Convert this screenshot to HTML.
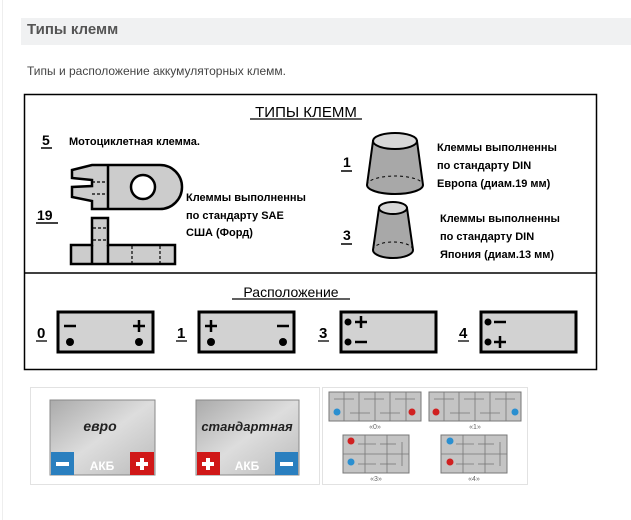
<!DOCTYPE html>
<html><head><meta charset="utf-8"><style>
body{margin:0;width:631px;height:520px;background:#fff;overflow:hidden;font-family:"Liberation Sans",sans-serif;position:relative}
</style></head><body>
<div style="position:absolute;left:2px;top:0;width:1px;height:520px;background:#eee"></div>
<div style="position:absolute;left:21px;top:18px;width:610px;height:27px;background:#f0f1f2"></div>
<div style="position:absolute;left:27px;top:21px;font-size:15px;font-weight:bold;color:#555">Типы клемм</div>
<div style="position:absolute;left:27px;top:64px;font-size:12px;color:#444">Типы и расположение аккумуляторных клемм.</div>
<svg width="631" height="520" style="position:absolute;left:0;top:0" font-family="Liberation Sans, sans-serif">
<rect x="24.5" y="94.5" width="572" height="275" fill="#fff" stroke="#000" stroke-width="1.5"/>
<line x1="24" y1="273" x2="597" y2="273" stroke="#000" stroke-width="1.5"/>
<text x="306" y="117" font-size="15" text-anchor="middle">ТИПЫ КЛЕММ</text>
<line x1="250" y1="119" x2="362" y2="119" stroke="#000" stroke-width="1.2"/>
<g font-weight="bold" font-size="11">
<text x="42" y="145" font-size="14">5</text><line x1="41" y1="148" x2="52" y2="148" stroke="#000" stroke-width="1.5"/>
<text x="69" y="145">Мотоциклетная клемма.</text>
<text x="37" y="220" font-size="14">19</text><line x1="36" y1="223" x2="58" y2="223" stroke="#000" stroke-width="1.5"/>
<text x="186" y="201">Клеммы выполненны</text>
<text x="186" y="219">по стандарту SAE</text>
<text x="186" y="236">США (Форд)</text>
<text x="343" y="167" font-size="14">1</text><line x1="341" y1="171" x2="352" y2="171" stroke="#000" stroke-width="1.5"/>
<text x="437" y="151">Клеммы выполненны</text>
<text x="437" y="169">по стандарту DIN</text>
<text x="437" y="187">Европа (диам.19 мм)</text>
<text x="343" y="240" font-size="14">3</text><line x1="341" y1="244" x2="352" y2="244" stroke="#000" stroke-width="1.5"/>
<text x="440" y="222">Клеммы выполненны</text>
<text x="440" y="240">по стандарту DIN</text>
<text x="440" y="258">Япония (диам.13 мм)</text>
</g>
<g stroke="#000" stroke-width="2.5" fill="#ccc">
<path d="M92 165 L160 165 A22 22 0 0 1 160 209 L92 209 L92 201 L72 197 L72 187 L92 186 L92 180 L72 178 L72 170 Z"/>
<line x1="108" y1="165" x2="108" y2="209"/>
<circle cx="143" cy="187" r="12" fill="#fff"/>
<path d="M92 218 L108 218 L108 245 L175 245 L175 264 L71 264 L71 245 L92 245 Z"/>
<line x1="92" y1="245" x2="92" y2="264"/><line x1="108" y1="245" x2="108" y2="264"/>
</g>
<g stroke="#000" stroke-width="1.2" stroke-dasharray="3 2">
<line x1="92" y1="182" x2="106" y2="182"/><line x1="92" y1="194" x2="106" y2="194"/>
<line x1="93" y1="228" x2="106" y2="228"/><line x1="93" y1="240" x2="106" y2="240"/>
<line x1="132" y1="246" x2="132" y2="263"/><line x1="160" y1="246" x2="160" y2="263"/>
</g>
<g stroke="#000" stroke-width="2" fill="#a8a8a8">
<path d="M373 141 L367 185 A28 9 0 0 0 423 185 L417 141 Z"/>
<ellipse cx="395" cy="141" rx="22" ry="8" fill="#d8d8d8"/>
<path d="M379 208 L373 250 A20 8 0 0 0 413 250 L407 208 Z"/>
<ellipse cx="393" cy="208" rx="14" ry="6" fill="#d8d8d8"/>
</g>
<path d="M367 185 A28 9 0 0 1 423 185" fill="none" stroke="#000" stroke-dasharray="3 3"/>
<path d="M373 250 A20 8 0 0 1 413 250" fill="none" stroke="#000" stroke-dasharray="3 3"/>
<text x="291" y="297" font-size="14" text-anchor="middle">Расположение</text>
<line x1="232" y1="299" x2="350" y2="299" stroke="#000" stroke-width="1.2"/>
<g font-size="15" font-weight="bold">
<text x="37" y="338">0</text><line x1="36" y1="341" x2="47" y2="341" stroke="#000" stroke-width="1.3"/>
<text x="177" y="338">1</text><line x1="176" y1="341" x2="187" y2="341" stroke="#000" stroke-width="1.3"/>
<text x="319" y="338">3</text><line x1="318" y1="341" x2="329" y2="341" stroke="#000" stroke-width="1.3"/>
<text x="459" y="338">4</text><line x1="458" y1="341" x2="469" y2="341" stroke="#000" stroke-width="1.3"/>
</g>
<g stroke="#000" stroke-width="3" fill="#d2d2d2">
<rect x="58" y="312" width="95" height="40"/><rect x="199" y="312" width="95" height="40"/>
<rect x="341" y="312" width="95" height="40"/><rect x="481" y="312" width="95" height="40"/>
</g>
<g stroke="#000" stroke-width="2.5">
<line x1="64" y1="326" x2="76" y2="326"/><line x1="133" y1="326" x2="145" y2="326"/><line x1="139" y1="320" x2="139" y2="332"/>
<line x1="205" y1="326" x2="217" y2="326"/><line x1="211" y1="320" x2="211" y2="332"/><line x1="277" y1="326" x2="289" y2="326"/>
<line x1="355" y1="322" x2="367" y2="322"/><line x1="361" y1="316" x2="361" y2="328"/><line x1="355" y1="342" x2="367" y2="342"/>
<line x1="494" y1="322" x2="506" y2="322"/><line x1="494" y1="342" x2="506" y2="342"/><line x1="500" y1="336" x2="500" y2="348"/>
</g>
<g fill="#000">
<circle cx="70" cy="342" r="4"/><circle cx="139" cy="342" r="4"/><circle cx="211" cy="342" r="4"/><circle cx="283" cy="342" r="4"/>
<circle cx="348" cy="322" r="3.5"/><circle cx="348" cy="342" r="3.5"/><circle cx="488" cy="322" r="3.5"/><circle cx="488" cy="342" r="3.5"/>
</g>
<defs><linearGradient id="g" x1="0" y1="0" x2="1" y2="1"><stop offset="0" stop-color="#aaa"/><stop offset="0.5" stop-color="#ddd"/><stop offset="1" stop-color="#bbb"/></linearGradient></defs>
<rect x="30.5" y="387.5" width="289" height="97" fill="#fff" stroke="#e2e2e2"/>
<rect x="322.5" y="387.5" width="205" height="97" fill="#fff" stroke="#e2e2e2"/>
<rect x="50" y="400" width="105" height="75" fill="url(#g)" stroke="#888"/>
<rect x="196" y="400" width="103" height="75" fill="url(#g)" stroke="#888"/>
<text x="100" y="431" font-size="14" font-weight="bold" font-style="italic" text-anchor="middle" fill="#222">евро</text>
<text x="247" y="431" font-size="13" font-weight="bold" font-style="italic" text-anchor="middle" fill="#222">стандартная</text>
<text x="102" y="470" font-size="12" font-weight="bold" fill="#fff" text-anchor="middle">АКБ</text>
<text x="247" y="470" font-size="12" font-weight="bold" fill="#fff" text-anchor="middle">АКБ</text>
<rect x="51" y="452" width="23" height="23" fill="#2a7fbf"/><rect x="56" y="462" width="13" height="4" fill="#fff"/>
<rect x="130" y="452" width="24" height="23" fill="#d01818"/><rect x="136" y="462" width="12" height="4" fill="#fff"/><rect x="140" y="458" width="4" height="12" fill="#fff"/>
<rect x="197" y="452" width="23" height="23" fill="#d01818"/><rect x="202" y="462" width="12" height="4" fill="#fff"/><rect x="206" y="458" width="4" height="12" fill="#fff"/>
<rect x="275" y="452" width="23" height="23" fill="#2a7fbf"/><rect x="280" y="462" width="13" height="4" fill="#fff"/>
<g fill="#c4c4c4" stroke="#777">
<rect x="329" y="392" width="92" height="29"/><rect x="429" y="392" width="92" height="29"/>
<rect x="343" y="435" width="66" height="38"/><rect x="441" y="435" width="66" height="38"/>
</g>
<g stroke="#777" stroke-width="0.8">
<line x1="344" y1="392" x2="344" y2="421"/><line x1="359" y1="392" x2="359" y2="421"/><line x1="375" y1="392" x2="375" y2="421"/><line x1="390" y1="392" x2="390" y2="421"/><line x1="406" y1="392" x2="406" y2="421"/>
<line x1="444" y1="392" x2="444" y2="421"/><line x1="459" y1="392" x2="459" y2="421"/><line x1="475" y1="392" x2="475" y2="421"/><line x1="490" y1="392" x2="490" y2="421"/><line x1="506" y1="392" x2="506" y2="421"/>
<line x1="343" y1="454" x2="409" y2="454"/><line x1="365" y1="435" x2="365" y2="473"/><line x1="387" y1="435" x2="387" y2="473"/>
<line x1="441" y1="454" x2="507" y2="454"/><line x1="463" y1="435" x2="463" y2="473"/><line x1="485" y1="435" x2="485" y2="473"/>
<line x1="334" y1="399" x2="354" y2="399"/><line x1="364" y1="399" x2="384" y2="399"/><line x1="395" y1="399" x2="415" y2="399"/>
<line x1="434" y1="399" x2="454" y2="399"/><line x1="464" y1="399" x2="484" y2="399"/><line x1="495" y1="399" x2="515" y2="399"/>
<line x1="350" y1="413" x2="370" y2="413"/><line x1="380" y1="413" x2="400" y2="413"/><line x1="450" y1="413" x2="470" y2="413"/><line x1="480" y1="413" x2="500" y2="413"/>
<line x1="358" y1="444" x2="376" y2="444"/><line x1="380" y1="444" x2="396" y2="444"/><line x1="358" y1="464" x2="376" y2="464"/><line x1="380" y1="464" x2="396" y2="464"/><line x1="402" y1="442" x2="402" y2="466"/>
<line x1="456" y1="444" x2="474" y2="444"/><line x1="478" y1="444" x2="494" y2="444"/><line x1="456" y1="464" x2="474" y2="464"/><line x1="478" y1="464" x2="494" y2="464"/><line x1="500" y1="442" x2="500" y2="466"/>
</g>
<g fill="#2a8fd0"><circle cx="337" cy="412" r="3.5"/><circle cx="515" cy="412" r="3.5"/><circle cx="351" cy="462" r="3.5"/><circle cx="450" cy="441" r="3.5"/></g>
<g fill="#d02020"><circle cx="412" cy="412" r="3.5"/><circle cx="436" cy="412" r="3.5"/><circle cx="351" cy="441" r="3.5"/><circle cx="450" cy="462" r="3.5"/></g>
<g font-size="7" fill="#666" text-anchor="middle"><text x="375" y="429">«0»</text><text x="475" y="429">«1»</text><text x="376" y="481">«3»</text><text x="474" y="481">«4»</text></g>
</svg>
</body></html>
